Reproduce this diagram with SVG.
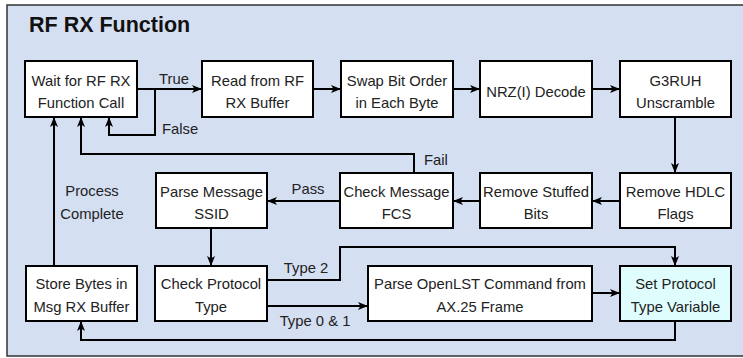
<svg xmlns="http://www.w3.org/2000/svg" width="743" height="358" viewBox="0 0 743 358">
  <defs>
    <marker id="arrow" viewBox="0 0 10 8" refX="10" refY="4" markerWidth="10" markerHeight="8" markerUnits="userSpaceOnUse" orient="auto">
      <path d="M0,0 L10,4 L0,8 L2.5,4 Z" fill="#000"/>
    </marker>
  </defs>
  <style>
    .frame { fill: #d5dff2; stroke: #333; stroke-width: 1.5; }
    .box { fill: #ffffff; stroke: #000; stroke-width: 2; }
    .box.hl { fill: #dffdfd; }
    .t { font-family: "Liberation Sans", Arial, sans-serif; font-size: 14.8px; fill: #222; text-anchor: middle; }
    .lbl { font-family: "Liberation Sans", Arial, sans-serif; font-size: 14.8px; fill: #222; }
    .title { font-family: "Liberation Sans", Arial, sans-serif; font-size: 21.5px; font-weight: bold; fill: #111; }
    .wire { fill: none; stroke: #000; stroke-width: 2; }
    .wire.end { marker-end: url(#arrow); }
  </style>

  <!-- container -->
  <rect class="frame" x="7" y="5" width="740" height="351"/>
  <text class="title" x="29" y="31.5">RF RX Function</text>

  <!-- connectors -->
  <g id="connectors">
    <path class="wire end" d="M137,89 H202"/>
    <path class="wire end" d="M155,89 V135 H109 V117"/>
    <path class="wire end" d="M313,89 H341"/>
    <path class="wire end" d="M453,89 H480"/>
    <path class="wire end" d="M592,89 H620"/>
    <path class="wire end" d="M675,117 V173"/>
    <path class="wire end" d="M620,201 H592"/>
    <path class="wire end" d="M480,201 H453"/>
    <path class="wire end" d="M340,201 H267"/>
    <path class="wire end" d="M414,173 V154 H81 V117"/>
    <path class="wire end" d="M54,266 V117"/>
    <path class="wire end" d="M211,228 V266"/>
    <path class="wire end" d="M267,280 H340 V247 H675 V266"/>
    <path class="wire end" d="M267,306 H368"/>
    <path class="wire end" d="M592,293 H620"/>
    <path class="wire end" d="M675,321 V340 H81 V321"/>

    <text class="t" x="174" y="84">True</text>
    <text class="lbl" x="162" y="134">False</text>
    <text class="lbl" x="424" y="165">Fail</text>
    <text class="t" x="308" y="194">Pass</text>
    <text class="t" x="92" y="196">Process</text>
    <text class="t" x="92" y="218.5">Complete</text>
    <text class="t" x="306" y="273">Type 2</text>
    <text class="t" x="315" y="325.5">Type 0 &amp; 1</text>
  </g>

  <!-- row 1 -->
  <g id="wait">
    <rect class="box" x="25" y="61" width="112" height="56"/>
    <text class="t" x="81" y="85.5">Wait for RF RX</text>
    <text class="t" x="81" y="108">Function Call</text>
  </g>
  <g id="read">
    <rect class="box" x="202" y="61" width="111" height="56"/>
    <text class="t" x="257.5" y="85.5">Read from RF</text>
    <text class="t" x="257.5" y="108">RX Buffer</text>
  </g>
  <g id="swap">
    <rect class="box" x="341" y="61" width="112" height="56"/>
    <text class="t" x="397" y="85.5">Swap Bit Order</text>
    <text class="t" x="397" y="108">in Each Byte</text>
  </g>
  <g id="nrz">
    <rect class="box" x="480" y="61" width="112" height="56"/>
    <text class="t" x="536" y="96.5">NRZ(I) Decode</text>
  </g>
  <g id="g3ruh">
    <rect class="box" x="620" y="61" width="111" height="56"/>
    <text class="t" x="675.5" y="85.5">G3RUH</text>
    <text class="t" x="675.5" y="108">Unscramble</text>
  </g>

  <!-- row 2 -->
  <g id="ssid">
    <rect class="box" x="156" y="173" width="111" height="55"/>
    <text class="t" x="211.5" y="196.5">Parse Message</text>
    <text class="t" x="211.5" y="219">SSID</text>
  </g>
  <g id="fcs">
    <rect class="box" x="340" y="173" width="113" height="55"/>
    <text class="t" x="396.5" y="196.5">Check Message</text>
    <text class="t" x="396.5" y="219">FCS</text>
  </g>
  <g id="stuffed">
    <rect class="box" x="480" y="173" width="112" height="55"/>
    <text class="t" x="536" y="196.5">Remove Stuffed</text>
    <text class="t" x="536" y="219">Bits</text>
  </g>
  <g id="hdlc">
    <rect class="box" x="620" y="173" width="111" height="55"/>
    <text class="t" x="675.5" y="196.5">Remove HDLC</text>
    <text class="t" x="675.5" y="219">Flags</text>
  </g>

  <!-- row 3 -->
  <g id="store">
    <rect class="box" x="26" y="266" width="111" height="55"/>
    <text class="t" x="81.5" y="289">Store Bytes in</text>
    <text class="t" x="81.5" y="311.5">Msg RX Buffer</text>
  </g>
  <g id="protocol">
    <rect class="box" x="155" y="266" width="112" height="55"/>
    <text class="t" x="211" y="289">Check Protocol</text>
    <text class="t" x="211" y="311.5">Type</text>
  </g>
  <g id="openlst">
    <rect class="box" x="368" y="266" width="224" height="55"/>
    <text class="t" x="480" y="289">Parse OpenLST Command from</text>
    <text class="t" x="480" y="311.5">AX.25 Frame</text>
  </g>
  <g id="settype">
    <rect class="box hl" x="620" y="266" width="111" height="55"/>
    <text class="t" x="675.5" y="289">Set Protocol</text>
    <text class="t" x="675.5" y="311.5">Type Variable</text>
  </g>
</svg>
